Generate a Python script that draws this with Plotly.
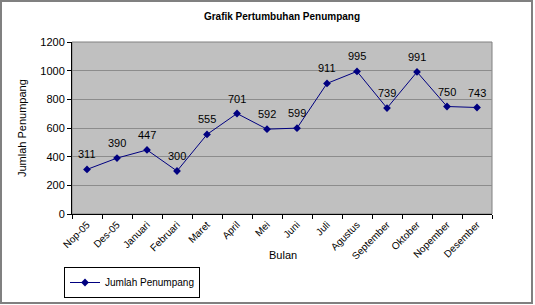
import plotly.graph_objects as go

bulan = ["Nop-05", "Des-05", "Januari", "Februari", "Maret", "April", "Mei", "Juni",
         "Juli", "Agustus", "September", "Oktober", "Nopember", "Desember"]
penumpang = [311, 390, 447, 300, 555, 701, 592, 599, 911, 995, 739, 991, 750, 743]
y_ticks = [0, 200, 400, 600, 800, 1000, 1200]

FONT = "Liberation Sans, Arial, sans-serif"
W, H = 535, 305
L, R, T, B = 72, 43, 42, 91
pw, ph = W - L - R, H - T - B

fig = go.Figure()
fig.add_trace(go.Scatter(
    x=bulan, y=penumpang, mode="lines+markers",
    name="Jumlah Penumpang",
    line=dict(color="#000080", width=1),
    marker=dict(symbol="diamond", size=6, color="#000080"),
    cliponaxis=False,
))

def px_x(x):
    return (x - L) / pw

def px_y(y):
    return (H - B - y) / ph

label_annots = [
    dict(x=b, y=v, xref="x", yref="y", text=str(v), showarrow=False,
         yshift=15, xanchor="center", yanchor="middle",
         font=dict(size=11, family=FONT, color="#000000"))
    for b, v in zip(bulan, penumpang)
]

fig.update_layout(
    width=W, height=H,
    margin=dict(l=L, r=R, t=T, b=B, autoexpand=False),
    paper_bgcolor="white", plot_bgcolor="#C0C0C0",
    font=dict(family=FONT, size=10, color="#000000"),
    title=dict(text="<b>Grafik Pertumbuhan Penumpang</b>", x=0.5, xref="paper",
               y=1 - 16 / H, yanchor="middle", font=dict(size=10, family=FONT)),
    showlegend=True,
    legend=dict(x=64 / W, y=1 - 298 / H, xref="container", yref="container",
                xanchor="left", yanchor="bottom", orientation="v",
                bordercolor="#000000", borderwidth=1, bgcolor="white",
                font=dict(size=10, family=FONT),
                itemwidth=30, tracegroupgap=0),
    xaxis=dict(type="category", tickangle=-45, ticks="outside", tickson="boundaries",
               ticklen=4, tickcolor="#000000", showline=True, linecolor="#000000",
               linewidth=1, showgrid=False, tickfont=dict(size=10, family=FONT),
               range=[-0.5, len(bulan) - 0.5], automargin=False),
    yaxis=dict(range=[0, 1200], tickvals=y_ticks, ticks="outside", ticklen=4,
               tickcolor="#000000", showline=True, linecolor="#000000", linewidth=1,
               showgrid=True, gridcolor="#8C8C8C", gridwidth=1, zeroline=False,
               tickfont=dict(size=11, family=FONT), automargin=False),
    annotations=label_annots + [
        dict(text="Bulan", x=px_x(283), y=px_y(255), xref="paper", yref="paper",
             showarrow=False, font=dict(size=11, family=FONT), xanchor="center", yanchor="middle"),
        dict(text="Jumlah Penumpang", x=px_x(22), y=0.5, xref="paper", yref="paper",
             showarrow=False, textangle=-90, font=dict(size=11, family=FONT),
             xanchor="center", yanchor="middle"),
    ],
    shapes=[
        dict(type="rect", xref="paper", yref="paper",
             x0=px_x(1), x1=px_x(532), y0=px_y(303), y1=px_y(1),
             line=dict(color="#808080", width=2), fillcolor="rgba(0,0,0,0)", layer="below"),
        dict(type="rect", xref="paper", yref="paper", x0=0, x1=1, y0=0, y1=1,
             line=dict(color="#808080", width=1), fillcolor="rgba(0,0,0,0)", layer="below"),
    ],
)

fig.write_html("out.html")
